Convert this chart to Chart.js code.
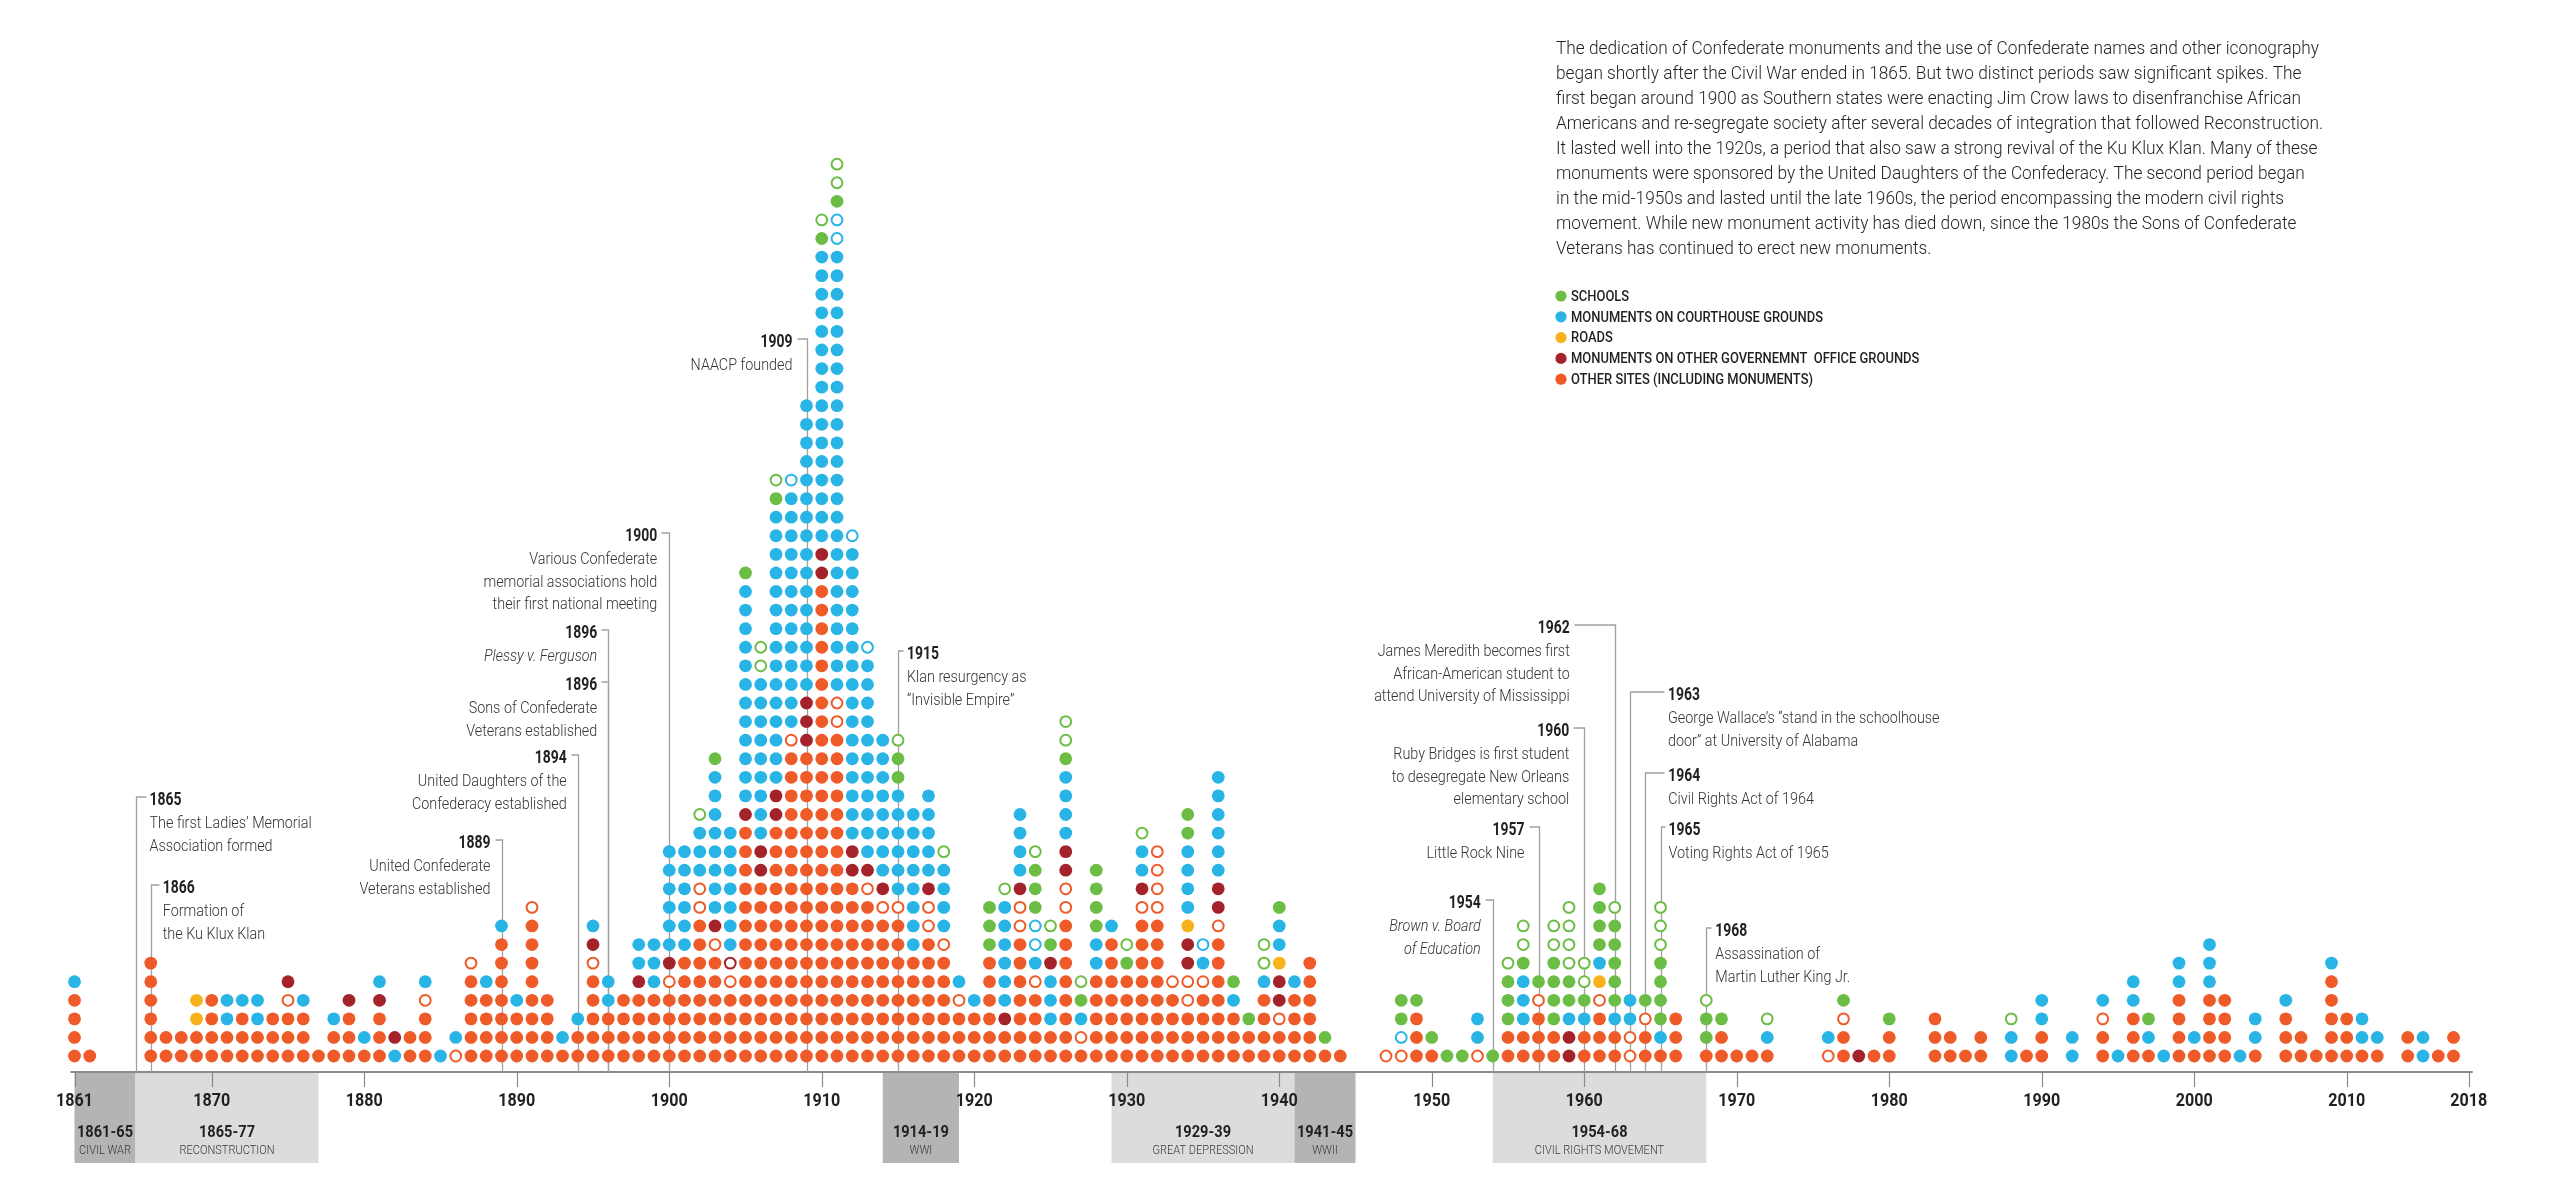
<!DOCTYPE html>
<html>
<head>
<meta charset="utf-8">
<script src="https://cdn.jsdelivr.net/npm/chart.js@4.4.1/dist/chart.umd.min.js"></script>
<style>
  html, body { margin: 0; padding: 0; background: #fff; }
  #wrap { width: 2550px; height: 1200px; }
</style>
</head>
<body>
<div id="wrap"><canvas id="monuments" width="2550" height="1200"></canvas></div>
<script>
// one entry per year with dots; each letter is one dot, stacked bottom to top
// O other sites, B courthouse grounds, G schools, Y roads, R other government offices
// lowercase letter = hollow dot
const years = [
  1861, 1862, 1866, 1867, 1868, 1869, 1870, 1871, 1872, 1873, 1874, 1875, 1876, 1877, 1878, 1879,
  1880, 1881, 1882, 1883, 1884, 1885, 1886, 1887, 1888, 1889, 1890, 1891, 1892, 1893, 1894, 1895,
  1896, 1897, 1898, 1899, 1900, 1901, 1902, 1903, 1904, 1905, 1906, 1907, 1908, 1909, 1910, 1911,
  1912, 1913, 1914, 1915, 1916, 1917, 1918, 1919, 1920, 1921, 1922, 1923, 1924, 1925, 1926, 1927,
  1928, 1929, 1930, 1931, 1932, 1933, 1934, 1935, 1936, 1937, 1938, 1939, 1940, 1941, 1942, 1943,
  1944, 1947, 1948, 1949, 1950, 1951, 1952, 1953, 1954, 1955, 1956, 1957, 1958, 1959, 1960, 1961,
  1962, 1963, 1964, 1965, 1966, 1968, 1969, 1970, 1971, 1972, 1976, 1977, 1978, 1979, 1980, 1983,
  1984, 1985, 1986, 1988, 1989, 1990, 1992, 1994, 1995, 1996, 1997, 1998, 1999, 2000, 2001, 2002,
  2003, 2004, 2006, 2007, 2008, 2009, 2010, 2011, 2012, 2014, 2015, 2016, 2017
];
const stacks = [
  'OOOOB', 'O', 'OOOOOO', 'OO', 'OO', 'OOYY', 'OOOO', 'OOBB', 'OOOB', 'OOBB', 'OOO', 'OOOoR', 'OOOB', 'O', 'OOB', 'OOOR',
  'OB', 'OOORB', 'BR', 'OO', 'OOOoB', 'B', 'oB', 'OOOOOo', 'OOOOB', 'OOOOOOOB', 'OOOB', 'OOOOOOOOo', 'OOOO', 'OB', 'OOB', 'OOOOOoRB',
  'OOOBB', 'OOOO', 'OOOORBB', 'OOOOBBB', 'OOOOoRBBBBBB', 'OOOOOOBBBBBB', 'OOOOOOOOooBBBg', 'OOOOOOoRBBBBBBBBG',
  'OOOOorBBBBBBB', 'OOOOOOOOOOOOORBBBBBBBBBBBBG', 'OOOOOOOOOORRBBBBBBBBBgg', 'OOOOOOOOOOOOORRBBBBBBBBBBBBBBBGg',
  'OOOOOOOOOOOOOOOOOoBBBBBBBBBBBBBb', 'OOOOOOOOOOOOOOOOORRRBBBBBBBBBBBBBBBB',
  'OOOOOOOOOOOOOOOOOOOOOOOOOORRBBBBBBBBBBBBBBBBGg', 'OOOOOOOOOOOOOOOOOOooBBBBBBBBBBBBBBBBBBBBBBBBbbGgg',
  'OOOOOOOOOORRBBBBBBBBBBBBBBBBb', 'OOOOOOOOOoRBBBBBBBBBBBb', 'OOOOOOOOoRBBBBBBBB', 'OOOOOOOOoBBBBBBGGg',
  'OOOOOOBBBBBBBB', 'OOOOOOOooRBBBBB', 'OOOOOOoBBBBg', 'OOOoB', 'OOOB', 'OOOOOOGGG', 'OORBBBBBBg', 'OOOOOOOooRBBBB',
  'OOOOoBbbGGGg', 'OOBBBRGg', 'OOOOOOOOooRRBBBBGgg', 'OoBGg', 'OOOOOBBGGGG', 'OOOOOOOB', 'OOOOOGg', 'OOOOOOOOoRBBg',
  'OOOOOOOOoooo', 'OOOOo', 'OOOooRRYBBBBGG', 'OOOOoBb', 'OOOOOOOoRRBBBBBB', 'OOOBG', 'OOG', 'OOOOBgg',
  'OOoRRYBBG', 'OOOOB', 'OOOOOO', 'OG', 'O', 'o', 'obGG', 'OOOG', 'OG', 'G', 'G', 'oBB', 'G', 'OOGGGg', 'OOBBBGgg', 'OOOoG',
  'OOGGGGgg', 'RRBGGgggg', 'OOBGgg', 'OOOoYBGGGG', 'OOBGGGGGg', 'ooBB', 'OOoG', 'OBGGGGggg', 'OOO', 'OGGg', 'OOG', 'O',
  'O', 'OBg', 'oB', 'OOoG', 'R', 'O', 'OOG', 'OOO', 'OO', 'O', 'OO', 'BBg', 'O', 'OOBB', 'BB', 'OOoB', 'B', 'OOOBB',
  'OBG', 'B', 'OOOOBB', 'OB', 'OOOOBBB', 'OOOO', 'B', 'OBB', 'OOOB', 'OO', 'O', 'OOOOOB', 'OOO', 'OBB', 'OB', 'OO',
  'BB', 'O', 'OO'
];

const categories = ['SCHOOLS', 'MONUMENTS ON COURTHOUSE GROUNDS', 'ROADS',
  'MONUMENTS ON OTHER GOVERNEMNT  OFFICE GROUNDS', 'OTHER SITES (INCLUDING MONUMENTS)'];
const categoryCodes = ['G', 'B', 'Y', 'R', 'O'];
const categoryColors = ['#6cbd45', '#29b4e6', '#f8b21c', '#a4232a', '#ef5a29'];

const tickYears = [1861, 1870, 1880, 1890, 1900, 1910, 1920, 1930, 1940, 1950, 1960, 1970, 1980, 1990, 2000, 2010, 2018];

const periodTitles = ['1861-65', '1865-77', '1914-19', '1929-39', '1941-45', '1954-68'];
const periodNames = ['CIVIL WAR', 'RECONSTRUCTION', 'WWI', 'GREAT DEPRESSION', 'WWII', 'CIVIL RIGHTS MOVEMENT'];
const periodFrom = [1861, 1865, 1914, 1929, 1941, 1954];
const periodTo = [1865, 1877, 1919, 1941, 1945, 1968];
const periodDark = [true, false, true, false, true, false];

const eventYears = [1865, 1866, 1889, 1894, 1896, 1896, 1900, 1909, 1915, 1954, 1957, 1960, 1962, 1963, 1964, 1965, 1968];
const eventNotes = [
  ['The first Ladies\u2019 Memorial', 'Association formed'],
  ['Formation of', 'the Ku Klux Klan'],
  ['United Confederate', 'Veterans established'],
  ['United Daughters of the', 'Confederacy established'],
  ['Plessy v. Ferguson'],
  ['Sons of Confederate', 'Veterans established'],
  ['Various Confederate', 'memorial associations hold', 'their first national meeting'],
  ['NAACP founded'],
  ['Klan resurgency as', '\u201cInvisible Empire\u201d'],
  ['Brown v. Board', 'of Education'],
  ['Little Rock Nine'],
  ['Ruby Bridges is first student', 'to desegregate New Orleans', 'elementary school'],
  ['James Meredith becomes first', 'African-American student to', 'attend University of Mississippi'],
  ['George Wallace\u2019s \u201cstand in the schoolhouse', 'door\u201d at University of Alabama'],
  ['Civil Rights Act of 1964'],
  ['Voting Rights Act of 1965'],
  ['Assassination of', 'Martin Luther King Jr.']
];

const description = [
  'The dedication of Confederate monuments and the use of Confederate names and other iconography',
  'began shortly after the Civil War ended in 1865. But two distinct periods saw significant spikes. The',
  'first began around 1900 as Southern states were enacting Jim Crow laws to disenfranchise African',
  'Americans and re-segregate society after several decades of integration that followed Reconstruction.',
  'It lasted well into the 1920s, a period that also saw a strong revival of the Ku Klux Klan. Many of these',
  'monuments were sponsored by the United Daughters of the Confederacy. The second period began',
  'in the mid-1950s and lasted until the late 1960s, the period encompassing the modern civil rights',
  'movement. While new monument activity has died down, since the 1980s the Sons of Confederate',
  'Veterans has continued to erect new monuments.'
];

// label placement for the events (pixels): title line y, side (+1 right, -1 left), gap to the line
const eventLayout = [
  { y: 801, side: 1, gap: 14 }, { y: 889, side: 1, gap: 12 }, { y: 844, side: -1, gap: 11 },
  { y: 759, side: -1, gap: 11 }, { y: 634, side: -1, gap: 11, italic: true }, { y: 686, side: -1, gap: 11 },
  { y: 537, side: -1, gap: 12 }, { y: 343, side: -1, gap: 14 }, { y: 655, side: 1, gap: 9 },
  { y: 904, side: -1, gap: 12, italic: true }, { y: 831, side: -1, gap: 14 }, { y: 732, side: -1, gap: 15 },
  { y: 629, side: -1, gap: 45 }, { y: 696, side: 1, gap: 38 }, { y: 777, side: 1, gap: 23 },
  { y: 831, side: 1, gap: 8 }, { y: 932, side: 1, gap: 9 }
];

function pointsFor(code) {
  const pts = [];
  years.forEach((yr, i) => {
    stacks[i].split('').forEach((c, r) => {
      if (c === code) pts.push({ x: yr, y: r + 1 });
    });
  });
  return pts;
}

const datasets = [];
categoryCodes.forEach((code, k) => {
  datasets.push({
    label: categories[k],
    data: pointsFor(code),
    pointRadius: 6.4,
    pointHoverRadius: 6.4,
    pointBackgroundColor: categoryColors[k],
    pointBorderWidth: 0,
    clip: false
  });
  datasets.push({
    label: categories[k] + ' (open)',
    data: pointsFor(code.toLowerCase()),
    pointRadius: 5.4,
    pointHoverRadius: 5.4,
    pointBackgroundColor: '#ffffff',
    pointBorderColor: categoryColors[k],
    pointBorderWidth: 2,
    clip: false
  });
});

// horizontally squeezed text, to get close to the condensed face of the original
function fitScale(ctx, font, sample, width) {
  ctx.font = font;
  return width / ctx.measureText(sample).width;
}
function txt(ctx, s, x, y, font, color, align, sx) {
  ctx.save();
  ctx.font = font;
  ctx.fillStyle = color;
  ctx.textAlign = align;
  ctx.textBaseline = 'middle';
  ctx.translate(x, y);
  ctx.scale(sx, 1);
  ctx.fillText(s, 0, 0);
  ctx.restore();
}

const AXIS_Y = 1072;
const FONT = 'Roboto, "Open Sans", sans-serif';

const decorations = {
  id: 'decorations',
  beforeDatasetsDraw(chart) {
    const ctx = chart.ctx;
    const xs = chart.scales.x;

    // period boxes under the axis
    periodTitles.forEach((t, i) => {
      const x0 = xs.getPixelForValue(periodFrom[i]);
      const x1 = xs.getPixelForValue(periodTo[i]);
      ctx.fillStyle = periodDark[i] ? '#b4b4b4' : '#dcdcdc';
      ctx.fillRect(x0, AXIS_Y, x1 - x0, 91);
    });

    // axis line and ticks
    ctx.strokeStyle = '#8a8a8a';
    ctx.lineWidth = 2;
    ctx.beginPath();
    ctx.moveTo(xs.getPixelForValue(1861) - 4, AXIS_Y);
    ctx.lineTo(xs.getPixelForValue(2018) + 4, AXIS_Y);
    ctx.stroke();
    ctx.lineWidth = 1.2;
    tickYears.forEach(y => {
      const x = Math.round(xs.getPixelForValue(y)) + 0.5;
      ctx.beginPath();
      ctx.moveTo(x, AXIS_Y);
      ctx.lineTo(x, AXIS_Y + 15);
      ctx.stroke();
    });

    // event leader lines, behind the dots
    ctx.strokeStyle = '#a0a0a0';
    ctx.lineWidth = 1.3;
    eventYears.forEach((yr, i) => {
      const L = eventLayout[i];
      const x = Math.round(xs.getPixelForValue(yr)) + 0.5;
      const ty = L.y - 4;
      ctx.beginPath();
      ctx.moveTo(x + L.side * (L.gap - 4), ty);
      ctx.lineTo(x, ty);
      ctx.lineTo(x, AXIS_Y);
      ctx.stroke();
    });
  },
  afterDatasetsDraw(chart) {
    const ctx = chart.ctx;
    const xs = chart.scales.x;

    const sxTick = fitScale(ctx, 'bold 19px ' + FONT, '1870', 37);
    tickYears.forEach(y => {
      txt(ctx, String(y), xs.getPixelForValue(y), 1101, 'bold 19px ' + FONT, '#231f20', 'center', sxTick);
    });

    const sxPT = fitScale(ctx, 'bold 16px ' + FONT, '1865-77', 56);
    const sxPN = fitScale(ctx, '300 12px ' + FONT, 'RECONSTRUCTION', 95);
    periodTitles.forEach((t, i) => {
      const cx = (xs.getPixelForValue(periodFrom[i]) + xs.getPixelForValue(periodTo[i])) / 2;
      txt(ctx, t, cx, 1133, 'bold 16px ' + FONT, '#231f20', 'center', sxPT);
      txt(ctx, periodNames[i], cx, 1151, '300 12px ' + FONT, '#3a3a3a', 'center', sxPN);
    });

    // event labels
    const sxTitle = fitScale(ctx, 'bold 17.5px ' + FONT, '1909', 32);
    const sxNote = fitScale(ctx, '300 16.5px ' + FONT, 'Ruby Bridges is first student', 176);
    eventYears.forEach((yr, i) => {
      const L = eventLayout[i];
      const x = xs.getPixelForValue(yr) + L.side * L.gap;
      const align = L.side > 0 ? 'left' : 'right';
      txt(ctx, String(yr), x, L.y, 'bold 17.5px ' + FONT, '#231f20', align, sxTitle);
      const nf = (L.italic ? 'italic ' : '') + '300 16.5px ' + FONT;
      eventNotes[i].forEach((line, j) => {
        txt(ctx, line, x, L.y + 23 + j * 22.5, nf, '#333333', align, sxNote);
      });
    });

    // explanatory paragraph
    const sxDesc = fitScale(ctx, '300 19px ' + FONT, description[0], 763);
    description.forEach((line, i) => {
      txt(ctx, line, 1556, 49 + i * 25, '300 19px ' + FONT, '#231f20', 'left', sxDesc);
    });

    // legend
    const sxLeg = fitScale(ctx, '500 15px ' + FONT, categories[1], 252);
    categories.forEach((c, i) => {
      const y = 296 + i * 20.8;
      ctx.fillStyle = categoryColors[i];
      ctx.beginPath();
      ctx.arc(1561, y, 5.6, 0, Math.PI * 2);
      ctx.fill();
      txt(ctx, c, 1571, y + 1, '500 15px ' + FONT, '#231f20', 'left', sxLeg);
    });
  }
};

new Chart(document.getElementById('monuments'), {
  type: 'scatter',
  data: { datasets: datasets },
  options: {
    responsive: false,
    devicePixelRatio: 1,
    animation: false,
    events: [],
    layout: { padding: { left: 74.5, right: 81.25, top: 34.1, bottom: 125.4 } },
    plugins: { legend: { display: false }, tooltip: { enabled: false } },
    scales: {
      x: { type: 'linear', min: 1861, max: 2018, display: false },
      y: { type: 'linear', min: 0, max: 56, display: false }
    }
  },
  plugins: [decorations]
});
</script>
</body>
</html>
